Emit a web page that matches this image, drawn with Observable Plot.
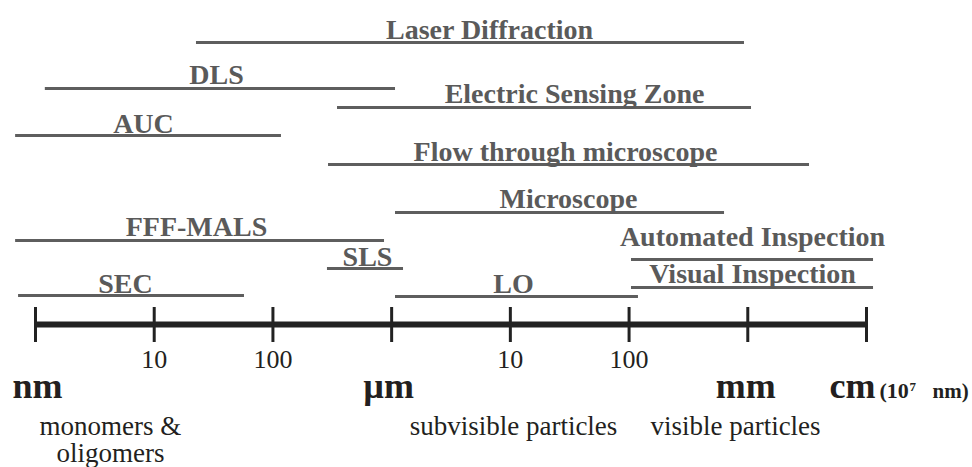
<!DOCTYPE html>
<html>
<head>
<meta charset="utf-8">
<script src="https://cdn.jsdelivr.net/npm/d3@7"></script>
<script src="https://cdn.jsdelivr.net/npm/@observablehq/plot@0.6"></script>
<style>
  html, body { margin: 0; padding: 0; background: #fff; }
</style>
</head>
<body>
<div id="chart"></div>
<script>
// ---- data (sizes in nm) ----
const methods    = ["Laser Diffraction", "DLS", "Electric Sensing Zone", "AUC", "Flow through microscope",
                    "Microscope", "FFF-MALS", "Automated Inspection", "SLS", "Visual Inspection", "SEC", "LO"];
const rangeMin   = [22.7, 1.21, 350, 0.68, 294, 1078, 0.68, 104800, 288, 104800, 0.72, 1078];
const rangeMax   = [938000, 1078, 1075000, 118, 3311000, 637000, 871, 11460000, 1259, 11460000, 57.6, 120000];
// row level of each method's bar (0 = scale bar) and of its label
const lineLevel  = [282, 236, 217, 189, 160, 112, 84, 65, 56, 37, 29, 28];
const labelAt    = [6673, 33.5, 34700, 8.12, 29140, 30890, 22.7, 1096000, 626, 1096000, 5.73, 10630];
const labelLevel = [286, 241, 222, 192, 164, 117, 89, 79, 59, 42, 32, 32];

const tickValues = [1, 10, 100, 1e3, 1e4, 1e5, 1e6, 1e7];
const tickLabels = ["", "10", "100", "", "10", "100", "", ""];

const unitValues = [1, 1e3, 1e6, 1e7];
const unitLabels = ["nm", "µm", "mm", "cm"];

const categoryNames = ["monomers &\noligomers", "subvisible particles", "visible particles"];
const categoryAt    = [4.28, 10630, 788000];

// ---- build tables ----
const table = methods.map((name, i) => ({
  name, min: rangeMin[i], max: rangeMax[i], level: lineLevel[i],
  labelAt: labelAt[i], labelLevel: labelLevel[i]
}));
const ticks = tickValues.map((v, i) => ({v, label: tickLabels[i]}));
const cats = categoryNames.map((name, i) => ({name, at: categoryAt[i]}));

const serif = "'Liberation Serif', 'Times New Roman', serif";
const unitDx = [2, -3, -2];

const marks = [
  // method ranges
  Plot.ruleY(table, {y: "level", x1: "min", x2: "max", stroke: "#5e5e5e", strokeWidth: 3.2}),
  Plot.text(table, {x: "labelAt", y: "labelLevel", text: "name", lineAnchor: "bottom",
    fontSize: 28, fontWeight: "bold", fontFamily: serif, fill: "#5a5a5a"}),
  // scale bar
  Plot.ruleY([0], {x1: tickValues[0], x2: tickValues[tickValues.length - 1], stroke: "#222", strokeWidth: 6}),
  Plot.ruleX(ticks, {x: "v", y1: 17, y2: -18, stroke: "#222", strokeWidth: 3}),
  Plot.text(ticks, {x: "v", y: -43, text: "label", lineAnchor: "bottom",
    fontSize: 26, fontFamily: serif, fill: "#231f20"}),
  // units
  ...unitLabels.slice(0, 3).map((u, i) => Plot.text([unitValues[i]], {x: d => d, y: -73, text: () => u,
    lineAnchor: "bottom", dx: unitDx[i], fontSize: 36, fontWeight: "bold", fontFamily: serif, fill: "#231f20"})),
  Plot.text([unitValues[3]], {x: d => d, y: -73, text: () => unitLabels[3], textAnchor: "end", dx: 9,
    lineAnchor: "bottom", fontSize: 36, fontWeight: "bold", fontFamily: serif, fill: "#231f20"}),
  Plot.text([unitValues[3]], {x: d => d, y: -73, text: () => "(10", textAnchor: "start", dx: 13,
    lineAnchor: "bottom", fontSize: 22, fontWeight: "bold", fontFamily: serif, fill: "#231f20"}),
  Plot.text([unitValues[3]], {x: d => d, y: -66, text: () => "7", textAnchor: "start", dx: 43,
    lineAnchor: "bottom", fontSize: 13, fontWeight: "bold", fontFamily: serif, fill: "#231f20"}),
  Plot.text([unitValues[3]], {x: d => d, y: -73, text: () => "nm)", textAnchor: "start", dx: 66,
    lineAnchor: "bottom", fontSize: 21, fontWeight: "bold", fontFamily: serif, fill: "#231f20"}),
  // particle categories
  Plot.text(cats, {x: "at", y: -91, text: "name", lineAnchor: "top", lineHeight: 1,
    fontSize: 27, fontFamily: serif, fill: "#231f20"})
];

const chart = Plot.plot({
  width: 972,
  height: 467,
  marginLeft: 35,
  marginRight: 106,
  marginTop: 0,
  marginBottom: 0,
  x: {type: "log", domain: [1, 1e7], axis: null},
  y: {type: "linear", domain: [-143, 324], axis: null},
  style: {fontFamily: serif, background: "#fff", overflow: "visible"},
  marks
});
document.getElementById("chart").appendChild(chart);
</script>
</body>
</html>
